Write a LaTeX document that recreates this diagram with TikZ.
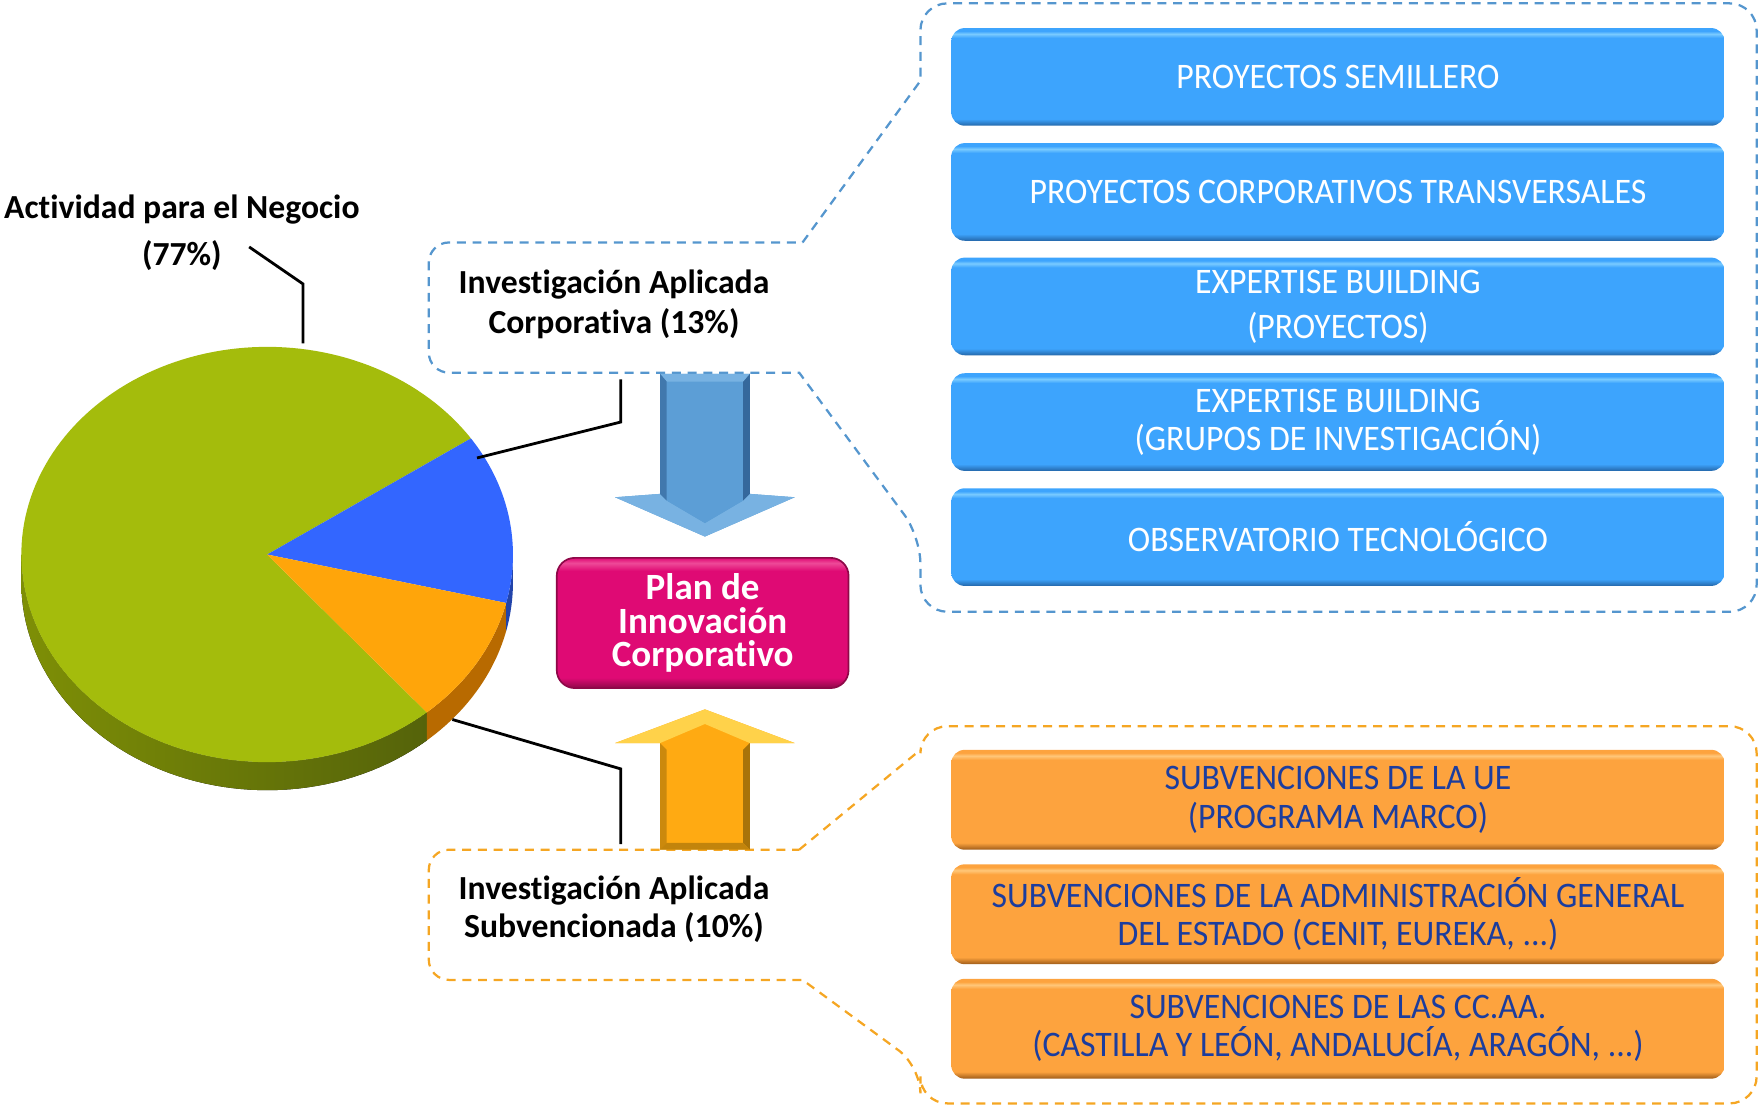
\documentclass[tikz,border=0pt]{standalone}
\usepackage{fontspec}
\setmainfont{Carlito}[Ligatures=NoCommon]
\newfontfamily\boxfont{Carlito}[FakeStretch=0.94, Ligatures=NoCommon]
\usetikzlibrary{calc}
\definecolor{pgreen}{HTML}{A4BC0C}
\definecolor{pgreenA}{HTML}{7E8F06}
\definecolor{pgreenB}{HTML}{55630A}
\definecolor{pblue}{HTML}{3366FF}
\definecolor{pblueside}{HTML}{2244AA}
\definecolor{porange}{HTML}{FFA50A}
\definecolor{porangeside}{HTML}{B86A00}
\definecolor{dblue}{HTML}{5596CE}
\definecolor{dorange}{HTML}{F5A623}
\definecolor{bbase}{HTML}{3DA4FD}
\definecolor{blight}{HTML}{7ACBFF}
\definecolor{bdark}{HTML}{2466A8}
\definecolor{obase}{HTML}{FDA33E}
\definecolor{olight}{HTML}{FFC77A}
\definecolor{odark}{HTML}{9C5A18}
\definecolor{otext}{HTML}{1C3D9E}
\definecolor{planbase}{HTML}{DF0A74}
\definecolor{planlight}{HTML}{EE4A98}
\definecolor{plandark}{HTML}{8E0848}
\definecolor{arrb}{HTML}{5C9ED6}
\definecolor{arrbL}{HTML}{78B2E2}
\definecolor{arrbD}{HTML}{35689C}
\definecolor{arro}{HTML}{FFAA12}
\definecolor{arroL}{HTML}{FFD24A}
\definecolor{arroD}{HTML}{A8730A}
\pgfdeclareverticalshading{blueboxsh}{100bp}{color(0bp)=(bdark); color(25bp)=(bdark); color(28.5bp)=(bbase); color(70bp)=(bbase); color(72bp)=(blight); color(73.5bp)=(bbase); color(75bp)=(bbase); color(100bp)=(bbase)}
\pgfdeclareverticalshading{orangeboxsh}{100bp}{color(0bp)=(odark); color(25bp)=(odark); color(28.5bp)=(obase); color(70bp)=(obase); color(72bp)=(olight); color(73.5bp)=(obase); color(75bp)=(obase); color(100bp)=(obase)}
\pgfdeclareverticalshading{plansh}{100bp}{color(0bp)=(plandark); color(25bp)=(plandark); color(29bp)=(planbase); color(70bp)=(planbase); color(73bp)=(planlight); color(75bp)=(planbase); color(100bp)=(planbase)}
\tikzset{
  lbl/.style={font=\bfseries\fontsize{30}{35}\selectfont, align=center, inner sep=0pt},
  bluebox/.style={shade, shading=blueboxsh, rounded corners=12pt, minimum width=689pt, minimum height=87pt, inner sep=0pt, align=center, text=white, font=\boxfont\fontsize{32}{34}\selectfont},
  orangebox/.style={shade, shading=orangeboxsh, rounded corners=12pt, minimum width=689pt, minimum height=89pt, inner sep=0pt, align=center, text=otext, font=\boxfont\fontsize{32}{34}\selectfont},
  planbox/.style={shade, shading=plansh, draw=plandark, line width=1.5pt, rounded corners=16pt, minimum width=260pt, minimum height=116pt, inner sep=0pt, align=center, text=white, font=\bfseries\fontsize{33}{30}\selectfont},
  leader/.style={draw=black, line width=2.5pt},
  dashb/.style={draw=dblue, line width=2pt, dash pattern=on 8pt off 6pt},
  dasho/.style={draw=dorange, line width=2pt, dash pattern=on 8pt off 6pt},
}
\begin{document}
\begin{tikzpicture}[x=1pt,y=-1pt]
\useasboundingbox (0,0) rectangle (1568,986);
% ---------- pie ----------
\def\cx{238}\def\cy{494}\def\rx{219}\def\ry{185}\def\th{25}
\fill[left color=pgreenA, right color=pgreenB]
  plot[domain=49.5:180, samples=60] ({\cx+\rx*cos(\x)},{\cy+\ry*sin(\x)})
  -- plot[domain=180:49.5, samples=60] ({\cx+\rx*cos(\x)},{\cy+\th+\ry*sin(\x)}) -- cycle;
\fill[porangeside]
  plot[domain=13.5:49.5, samples=30] ({\cx+\rx*cos(\x)},{\cy+\ry*sin(\x)})
  -- plot[domain=49.5:13.5, samples=30] ({\cx+\rx*cos(\x)},{\cy+\th+\ry*sin(\x)}) -- cycle;
\fill[pblueside]
  plot[domain=0:13.5, samples=12] ({\cx+\rx*cos(\x)},{\cy+\ry*sin(\x)})
  -- plot[domain=13.5:0, samples=12] ({\cx+\rx*cos(\x)},{\cy+\th+\ry*sin(\x)}) -- cycle;
\fill[pgreen] (\cx,\cy) -- plot[domain=49.5:326, samples=150] ({\cx+\rx*cos(\x)},{\cy+\ry*sin(\x)}) -- cycle;
\fill[pblue] (\cx,\cy) -- plot[domain=-34:13.5, samples=40] ({\cx+\rx*cos(\x)},{\cy+\ry*sin(\x)}) -- cycle;
\fill[porange] (\cx,\cy) -- plot[domain=13.5:49.5, samples=40] ({\cx+\rx*cos(\x)},{\cy+\ry*sin(\x)}) -- cycle;
\coordinate (p77) at (270,306);
\coordinate (p13) at (425,408);
\coordinate (p10) at (403,641);
% ---------- labels ----------
\node[lbl, font=\bfseries\fontsize{30}{42}\selectfont] (act) at (162,207) {Actividad para el Negocio\\(77\%)};
\coordinate (act77) at (222,220);
\node[lbl] (corp) at (547,271) {Investigación Aplicada\\Corporativa (13\%)};
\node[lbl, font=\bfseries\fontsize{30}{34}\selectfont] (subv) at (547,810) {Investigación Aplicada\\Subvencionada (10\%)};
\coordinate (corpb) at (553,338);
\coordinate (subvt) at (553,752);
% leaders
\draw[leader] (act77) -- (270,253) -- (p77);
\draw[leader] (p13) -- (553,376) -- (corpb);
\draw[leader] (p10) -- (553,685) -- (subvt);
% ---------- callouts ----------
\draw[dashb] (715,216) -- (820,72) [rounded corners=24pt] -- (820,3) -- (1565,3) -- (1565,545) -- (820,545) -- (820,478) [sharp corners] -- (712,332) [rounded corners=18pt] -- (382,332) -- (382,216) -- (715,216);
\draw[dasho] (712,757) -- (820,668) [rounded corners=24pt] -- (820,647) -- (1565,647) -- (1565,983) -- (820,983) -- (820,950) [sharp corners] -- (715,873) [rounded corners=18pt] -- (382,873) -- (382,757) -- (712,757);
% ---------- arrows ----------
\fill[arrb] (588,333) -- (668,333) -- (668,440) -- (708,443) -- (628,478) -- (548,443) -- (588,440) -- cycle;
\fill[arrbL] (548,443) -- (588,440) -- (594,446) -- (628,466) -- (662,446) -- (668,440) -- (708,443) -- (628,478) -- cycle;
\fill[arrb] (594,446) -- (628,466) -- (662,446) -- cycle;
\fill[arrbD] (662,336) -- (668,333) -- (668,440) -- (662,446) -- cycle;
\fill[arrbL] (588,333) -- (668,333) -- (662,340) -- (594,340) -- cycle;
\fill[arrbD!70!arrb] (588,333) -- (594,340) -- (594,446) -- (588,440) -- cycle;
\fill[arro] (588,757) -- (668,757) -- (668,662) -- (708,662) -- (628,632) -- (548,662) -- (588,662) -- cycle;
\fill[arroL] (548,662) -- (628,632) -- (708,662) -- (668,662) -- (628,645) -- (588,662) -- cycle;
\fill[arroD] (662,668) -- (668,662) -- (668,757) -- (662,751) -- cycle;
\fill[arroD!60!arro] (588,662) -- (594,668) -- (594,751) -- (588,757) -- cycle;
\fill[arroD!70!arro] (588,757) -- (594,751) -- (662,751) -- (668,757) -- cycle;
% ---------- plan ----------
\node[planbox] (plan) at (626,555) {Plan de\\Innovación\\Corporativo};
% ---------- blue boxes ----------
\node[bluebox] (b1) at (1192,68.5) {PROYECTOS SEMILLERO};
\node[bluebox] (b2) at (1192,171) {PROYECTOS CORPORATIVOS TRANSVERSALES};
\node[bluebox, font=\boxfont\fontsize{32}{40}\selectfont] (b3) at (1192,273) {EXPERTISE BUILDING\\(PROYECTOS)};
\node[bluebox] (b4) at (1192,376) {EXPERTISE BUILDING\\(GRUPOS DE INVESTIGACIÓN)};
\node[bluebox] (b5) at (1192,478.5) {OBSERVATORIO TECNOLÓGICO};
% ---------- orange boxes ----------
\node[orangebox] (o1) at (1192,712.5) {SUBVENCIONES DE LA UE\\(PROGRAMA MARCO)};
\node[orangebox] (o2) at (1192,814.5) {SUBVENCIONES DE LA ADMINISTRACIÓN GENERAL\\DEL ESTADO (CENIT, EUREKA, ...)};
\node[orangebox] (o3) at (1192,916.5) {SUBVENCIONES DE LAS CC.AA.\\(CASTILLA Y LEÓN, ANDALUCÍA, ARAGÓN, ...)};
\end{tikzpicture}
\end{document}
